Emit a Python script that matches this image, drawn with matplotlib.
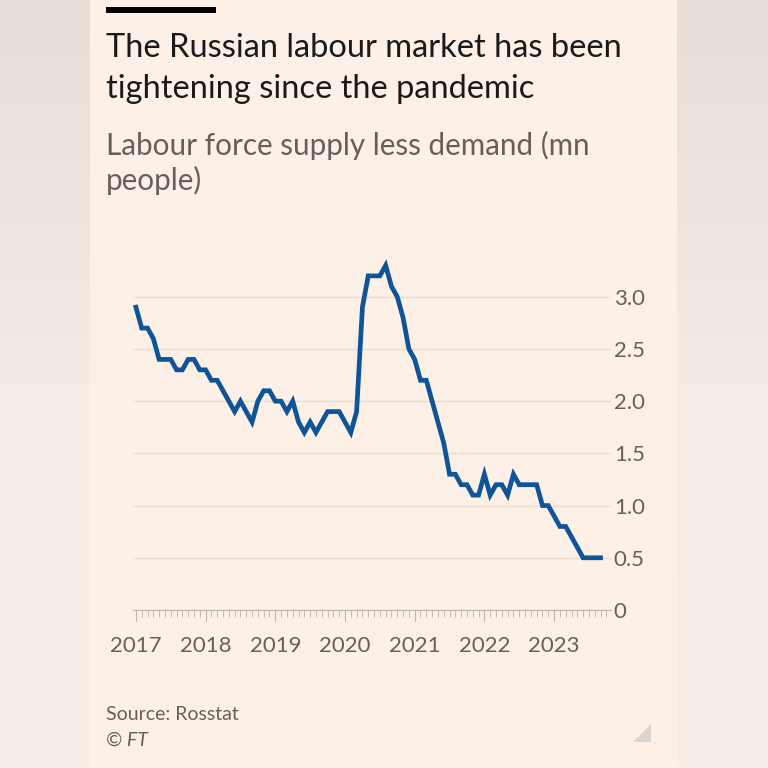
import numpy as np
import matplotlib
matplotlib.use("Agg")
import matplotlib.pyplot as plt
from matplotlib.patches import Rectangle, Polygon

# Monthly labour force supply less demand, mn people (Jan 2017 - Sep 2023)
values_2017 = [2.9, 2.7, 2.7, 2.6, 2.4, 2.4, 2.4, 2.3, 2.3, 2.4, 2.4, 2.3]
values_2018 = [2.3, 2.2, 2.2, 2.1, 2.0, 1.9, 2.0, 1.9, 1.8, 2.0, 2.1, 2.1]
values_2019 = [2.0, 2.0, 1.9, 2.0, 1.8, 1.7, 1.8, 1.7, 1.8, 1.9, 1.9, 1.9]
values_2020 = [1.8, 1.7, 1.9, 2.9, 3.2, 3.2, 3.2, 3.3, 3.1, 3.0, 2.8, 2.5]
values_2021 = [2.4, 2.2, 2.2, 2.0, 1.8, 1.6, 1.3, 1.3, 1.2, 1.2, 1.1, 1.1]
values_2022 = [1.3, 1.1, 1.2, 1.2, 1.1, 1.3, 1.2, 1.2, 1.2, 1.2, 1.0, 1.0]
values_2023 = [0.9, 0.8, 0.8, 0.7, 0.6, 0.5, 0.5, 0.5, 0.5]

years = ["2017", "2018", "2019", "2020", "2021", "2022", "2023"]
y_ticks = [0, 0.5, 1.0, 1.5, 2.0, 2.5, 3.0]
y_labels = ["0", "0.5", "1.0", "1.5", "2.0", "2.5", "3.0"]

values = values_2017 + values_2018 + values_2019 + values_2020 + values_2021 + values_2022 + values_2023
months = np.arange(len(values))

paper = "#fdf0e7"
side = "#f6ede7"
grey_text = "#66605c"
font = "Lato"

fig = plt.figure(figsize=(7.68, 7.68), dpi=100)
fig.patch.set_facecolor(side)

# blurred side strips of the screenshot
for x0, w in [(0, 90), (677, 91)]:
    sax = fig.add_axes([x0 / 768, 0, w / 768, 1])
    grad = np.linspace(0, 1, 200).reshape(-1, 1)
    sax.imshow(grad, aspect="auto", cmap=matplotlib.colors.LinearSegmentedColormap.from_list(
        "s", ["#e6ddd7", "#f5ece6", "#f7eee8"]), extent=[0, 1, 0, 1])
    sax.axis("off")
    sax.set_zorder(-2)

fig.patches.append(Rectangle((90 / 768, 0), 587 / 768, 1, transform=fig.transFigure,
                             facecolor=paper, edgecolor="none", zorder=-1))

# black bar
fig.patches.append(Rectangle((106 / 768, 1 - 13 / 768), 110 / 768, 6 / 768, transform=fig.transFigure,
                             facecolor="#000000", edgecolor="none"))

fig.text(106 / 768, 1 - 48 / 768, "The Russian labour market has been", fontsize=23.5, family=font,
         color="#1a1a1a", va="center")
fig.text(106 / 768, 1 - 89 / 768, "tightening since the pandemic", fontsize=23.5, family=font,
         color="#1a1a1a", va="center")
fig.text(106 / 768, 1 - 145 / 768, "Labour force supply less demand (mn", fontsize=21.3, family=font,
         color=grey_text, va="center")
fig.text(106 / 768, 1 - 180 / 768, "people)", fontsize=21.3, family=font, color=grey_text, va="center")

fig.text(106 / 768, 1 - 715 / 768, "Source: Rosstat", fontsize=14, family=font, color=grey_text, va="center")
fig.text(106 / 768, 1 - 740 / 768, "© FT", fontsize=14, family=font, style="italic", color=grey_text,
         va="center")
fig.patches.append(Polygon([(633 / 768, 1 - 742 / 768), (651 / 768, 1 - 742 / 768), (651 / 768, 1 - 724 / 768)],
                           closed=True, transform=fig.transFigure, facecolor="#dcd6d2", edgecolor="none"))

ax = fig.add_axes([133 / 768, (768 - 610) / 768, 478 / 768, 355 / 768])
ax.set_zorder(2)
ax.set_facecolor("none")
ax.plot(months, values, color="#0f5499", linewidth=3.4, solid_joinstyle="miter", zorder=3)

ax.set_xlim(-0.5, 81.8)
ax.set_ylim(0, 3.4)
ax.set_yticks(y_ticks)
ax.set_yticklabels(y_labels)
ax.yaxis.tick_right()
for s in ["top", "left", "right"]:
    ax.spines[s].set_visible(False)
ax.spines["bottom"].set_color("#bdb4ac")
ax.spines["bottom"].set_linewidth(0.8)
ax.grid(axis="y", color="#e9ddd3", linewidth=1)
ax.tick_params(axis="y", length=0, pad=2, labelsize=16, labelcolor=grey_text)

ax.set_xticks(np.arange(0, 73, 12))
ax.set_xticklabels(years)
ax.set_xticks(np.arange(0, 82), minor=True)
ax.tick_params(axis="x", which="major", length=8, color="#bdb4ac", width=0.8, pad=11,
               labelsize=16, labelcolor=grey_text)
ax.tick_params(axis="x", which="minor", length=5, color="#bdb4ac", width=0.6)
for lab in ax.get_xticklabels() + ax.get_yticklabels():
    lab.set_family(font)

fig.savefig("out.png", dpi=100, facecolor=fig.get_facecolor())
